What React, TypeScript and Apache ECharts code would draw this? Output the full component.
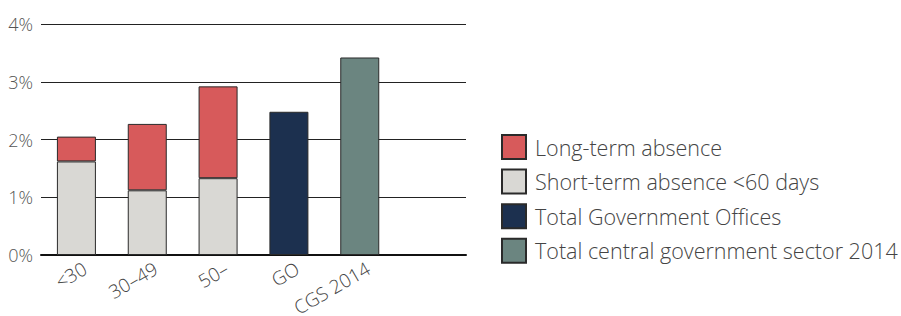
import React, { useEffect, useRef } from "react";
import * as echarts from "echarts";

const categories = ["<30", "30–49", "50–", "GO", "CGS 2014", ""];
const shortTerm = [1.62, 1.12, 1.33, null, null, null];
const longTerm = [0.43, 1.15, 1.59, null, null, null];
const totalGO = [null, null, null, 2.48, null, null];
const totalCGS = [null, null, null, null, 3.42, null];
const yTicks = [0, 1, 2, 3, 4];

const FONT = "'Open Sans', 'Noto Sans', sans-serif";

export default function App() {
  const ref = useRef<HTMLDivElement>(null);
  useEffect(() => {
    if (!ref.current) return;
    const chart = echarts.init(ref.current, undefined, { renderer: "svg" });
    const border = { borderColor: "#2a2a2a", borderWidth: 1 };
    chart.setOption({
      animation: false,
      grid: { left: 41, right: 435, top: 24, bottom: 61, containLabel: false, outerBoundsMode: "none" },
      legend: {
        orient: "vertical",
        left: 501,
        top: 134,
        padding: 0,
        itemWidth: 24,
        itemHeight: 24,
        itemGap: 8.6,
        icon: "rect",
        data: ["Long-term absence", "Short-term absence <60 days", "Total Government Offices", "Total central government sector 2014"],
        textStyle: { fontFamily: FONT, fontSize: 21.5, lineHeight: 24, fontWeight: 300, color: "#444", padding: [0, 0, 0, 4] },
      },
      xAxis: {
        type: "category",
        data: categories,
        axisLine: { lineStyle: { color: "#111", width: 2 } },
        axisTick: { show: false },
        axisLabel: {
          interval: 0,
          rotate: 30,
          margin: 17,
          fontFamily: FONT,
          fontSize: 19,
          fontWeight: 300,
          color: "#444",
          padding: [0, -10, 0, 0],
        },
      },
      yAxis: {
        type: "value",
        min: yTicks[0],
        max: yTicks[yTicks.length - 1],
        interval: 1,
        axisLine: { show: false },
        axisTick: { show: false },
        splitLine: { lineStyle: { color: "#222", width: 1 } },
        axisLabel: {
          formatter: (v: number) => `${v}%`,
          margin: 8,
          fontFamily: FONT,
          fontSize: 18,
          fontWeight: 300,
          color: "#555",
        },
      },
      series: [
        { name: "Short-term absence <60 days", type: "bar", stack: "t", barWidth: 39, data: shortTerm, itemStyle: { color: "#d9d8d4", ...border } },
        { name: "Long-term absence", type: "bar", stack: "t", barWidth: 39, data: longTerm, itemStyle: { color: "#d75a5b", ...border } },
        { name: "Total Government Offices", type: "bar", stack: "t", barWidth: 39, data: totalGO, itemStyle: { color: "#1c304f", ...border } },
        { name: "Total central government sector 2014", type: "bar", stack: "t", barWidth: 39, data: totalCGS, itemStyle: { color: "#6b8580", ...border } },
      ],
    });
    return () => chart.dispose();
  }, []);
  return <div ref={ref} style={{ width: 901, height: 316, position: "absolute", left: 0, top: 0 }} />;
}
